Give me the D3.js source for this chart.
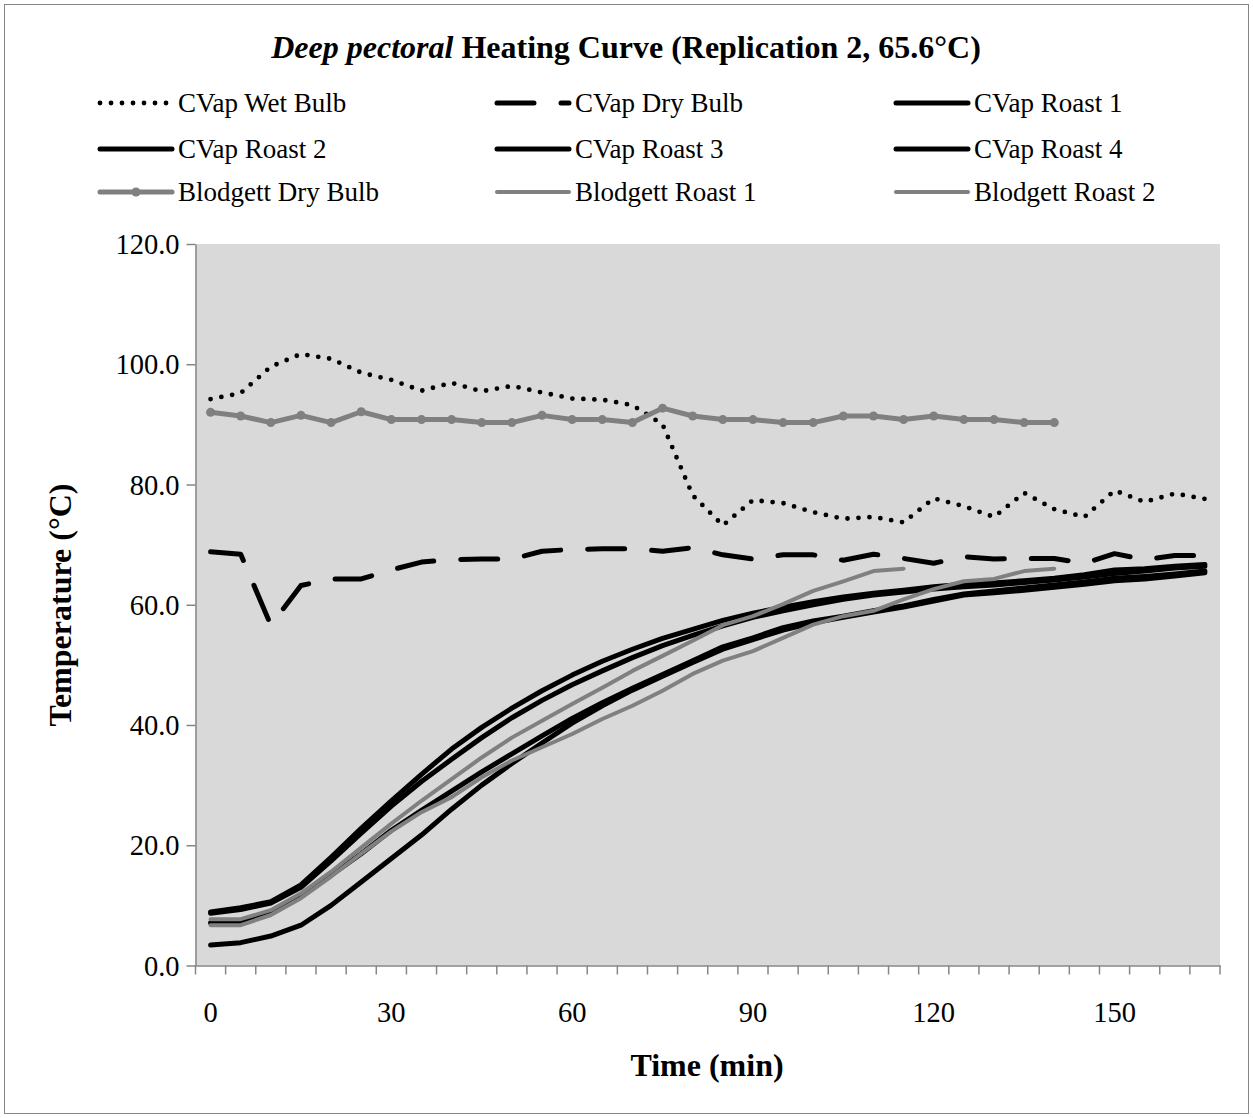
<!DOCTYPE html>
<html>
<head>
<meta charset="utf-8">
<script src="https://cdn.jsdelivr.net/npm/d3@7"></script>
<style>
  body { margin: 0; background: #fff; }
  svg { display: block; }
  text { font-family: "Liberation Serif", "Times New Roman", serif; fill: #000; }
</style>
</head>
<body>
<svg id="chart" width="1253" height="1118"></svg>
<script>
// Sampling times (min), one category every 5 minutes
const times = [0, 5, 10, 15, 20, 25, 30, 35, 40, 45, 50, 55, 60, 65, 70, 75, 80, 85,
               90, 95, 100, 105, 110, 115, 120, 125, 130, 135, 140, 145, 150, 155, 160, 165];
const xTickLabels = [0, 30, 60, 90, 120, 150];
const yTicks = [0, 20, 40, 60, 80, 100, 120];

// Temperatures (°C)
const cvapWetBulb = [94.2, 95.2, 99.6, 101.7, 100.9, 98.6, 97.4, 95.6, 96.9, 95.5,
                     96.4, 95.3, 94.3, 94.1, 93.2, 90.0, 78.2, 73.2, 77.4, 76.9,
                     75.4, 74.3, 74.6, 73.7, 77.7, 76.4, 74.6, 78.6, 75.9, 74.6,
                     79.0, 77.1, 78.5, 77.6];
const cvapDryBulb = [68.8, 68.4, 56.6, 63.2, 64.3, 64.3, 65.8, 67.1, 67.5, 67.6,
                     67.6, 68.9, 69.2, 69.3, 69.3, 68.9, 69.5, 68.3, 67.6, 68.3,
                     68.3, 67.4, 68.4, 67.7, 66.9, 68.0, 67.6, 67.7, 67.7, 66.9,
                     68.5, 67.5, 68.2, 68.2];
const cvapRoast1 = [8.9, 9.6, 10.6, 13.4, 18.0, 22.8, 27.4, 31.8, 36.0, 39.6,
                    42.8, 45.7, 48.3, 50.6, 52.6, 54.4, 55.9, 57.4, 58.6, 59.6,
                    60.5, 61.3, 61.9, 62.4, 63.0, 63.4, 63.6, 64.0, 64.4, 65.0,
                    65.8, 66.0, 66.4, 66.7];
const cvapRoast2 = [8.7, 9.3, 10.4, 13.0, 17.4, 22.0, 26.5, 30.6, 34.3, 37.9,
                    41.2, 44.1, 46.7, 49.0, 51.2, 53.2, 54.9, 56.5, 57.9, 59.0,
                    60.0, 60.9, 61.6, 62.1, 62.6, 63.0, 63.3, 63.7, 64.1, 64.6,
                    65.2, 65.6, 66.1, 66.4];
const cvapRoast3 = [7.1, 7.1, 8.9, 11.7, 15.0, 18.6, 22.5, 25.8, 29.0, 32.2,
                    35.2, 38.2, 41.1, 43.7, 46.1, 48.4, 50.7, 53.0, 54.5, 56.2,
                    57.3, 58.1, 59.0, 59.8, 60.9, 61.8, 62.3, 62.8, 63.3, 63.8,
                    64.4, 64.7, 65.1, 65.6];
const cvapRoast4 = [3.4, 3.8, 4.9, 6.7, 10.0, 13.9, 17.8, 21.7, 26.0, 30.0,
                    33.6, 37.0, 40.3, 43.2, 45.8, 48.1, 50.4, 52.6, 54.2, 55.8,
                    57.0, 57.9, 58.8, 59.6, 60.6, 61.6, 62.0, 62.4, 62.9, 63.4,
                    64.0, 64.3, 64.8, 65.3];
const blodgettDryBulb = [92.0, 91.4, 90.3, 91.5, 90.3, 92.1, 90.8, 90.8, 90.8, 90.3,
                         90.3, 91.5, 90.8, 90.8, 90.3, 92.7, 91.4, 90.8, 90.8, 90.3,
                         90.3, 91.4, 91.4, 90.8, 91.4, 90.8, 90.8, 90.3, 90.3];
const blodgettRoast1 = [7.7, 7.7, 9.2, 12.0, 15.6, 19.6, 23.6, 27.4, 31.0, 34.6,
                        37.9, 40.7, 43.5, 46.2, 49.0, 51.5, 54.0, 56.6, 58.1, 60.1,
                        62.3, 63.9, 65.6, 66.0];
const blodgettRoast2 = [6.7, 6.7, 8.4, 11.2, 14.8, 18.6, 22.3, 25.5, 28.0, 31.3,
                        34.1, 36.3, 38.5, 41.0, 43.2, 45.7, 48.5, 50.7, 52.3, 54.5,
                        56.7, 58.1, 59.0, 60.9, 62.6, 63.9, 64.3, 65.6, 66.0];

const BLACK = "#000000", GREY = "#808080", AXIS = "#868686";

// Series in drawing order, with their line styles
const series = [
  { name: "CVap Wet Bulb",      values: cvapWetBulb,     color: BLACK, width: 4.8, dash: "0 11",  cap: "round" },
  { name: "CVap Dry Bulb",      values: cvapDryBulb,     color: BLACK, width: 5,   dash: "37 27", cap: "round" },
  { name: "CVap Roast 1",       values: cvapRoast1,      color: BLACK, width: 5 },
  { name: "CVap Roast 2",       values: cvapRoast2,      color: BLACK, width: 5 },
  { name: "CVap Roast 3",       values: cvapRoast3,      color: BLACK, width: 5 },
  { name: "CVap Roast 4",       values: cvapRoast4,      color: BLACK, width: 5 },
  { name: "Blodgett Dry Bulb",  values: blodgettDryBulb, color: GREY,  width: 5, marker: true },
  { name: "Blodgett Roast 1",   values: blodgettRoast1,  color: GREY,  width: 4 },
  { name: "Blodgett Roast 2",   values: blodgettRoast2,  color: GREY,  width: 4 }
];

const svg = d3.select("#chart");

// Chart frame
svg.append("rect")
  .attr("x", 4.5).attr("y", 4.5).attr("width", 1244).attr("height", 1109)
  .attr("fill", "#fff").attr("stroke", AXIS).attr("stroke-width", 1);

const plot = { left: 195.5, right: 1220, top: 244, bottom: 965.5 };

const x = d3.scaleBand().domain(times).range([plot.left, plot.right]).paddingInner(0).paddingOuter(0);
const y = d3.scaleLinear().domain([0, 120]).range([plot.bottom, plot.top]);
const cx = t => x(t) + x.bandwidth() / 2;

// Plot area
svg.append("rect")
  .attr("x", plot.left).attr("y", plot.top)
  .attr("width", plot.right - plot.left).attr("height", plot.bottom - plot.top)
  .attr("fill", "#d9d9d9");

// Title
const title = svg.append("text")
  .attr("x", 626).attr("y", 58).attr("text-anchor", "middle")
  .style("font-size", "32px").style("font-weight", "bold");
title.append("tspan").style("font-style", "italic").text("Deep pectoral");
title.append("tspan").text(" Heating Curve (Replication 2, 65.6°C)");

// Y axis
const yAxis = svg.append("g")
  .attr("transform", `translate(${plot.left},0)`)
  .call(d3.axisLeft(y).tickValues(yTicks).tickFormat(d3.format(".1f"))
        .tickSize(9).tickSizeOuter(0).tickPadding(7));
yAxis.select(".domain").attr("stroke", AXIS).attr("stroke-width", 1.5);
yAxis.selectAll(".tick line").attr("stroke", AXIS).attr("stroke-width", 1.5);
yAxis.selectAll(".tick text")
  .attr("dy", "0.34em")
  .style("font-size", "28.5px").style("font-family", "Liberation Serif, serif").attr("fill", "#000");

// X axis: labels every 30 min at category centres, tick marks on category boundaries
const xAxis = svg.append("g")
  .attr("transform", `translate(0,${plot.bottom})`)
  .call(d3.axisBottom(d3.scaleLinear().domain([plot.left, plot.right]).range([plot.left, plot.right]))
        .tickValues([]).tickSizeOuter(0));
xAxis.select(".domain").attr("stroke", AXIS).attr("stroke-width", 1.5);
const boundaries = times.map(t => x(t)).concat([x(times[times.length - 1]) + x.bandwidth()]);
xAxis.selectAll("line.cat").data(boundaries).join("line")
  .attr("class", "cat")
  .attr("x1", d => d).attr("x2", d => d).attr("y1", 0).attr("y2", 9)
  .attr("stroke", AXIS).attr("stroke-width", 1.5);
xAxis.selectAll("text.lbl").data(xTickLabels).join("text")
  .attr("class", "lbl")
  .attr("x", d => cx(d)).attr("y", 56.5)
  .attr("text-anchor", "middle")
  .style("font-size", "28.5px")
  .text(d => d);

// Axis titles
svg.append("text")
  .attr("transform", "translate(71,605) rotate(-90)")
  .attr("text-anchor", "middle")
  .style("font-size", "32px").style("font-weight", "bold")
  .text("Temperature (°C)");
svg.append("text")
  .attr("x", 707).attr("y", 1076).attr("text-anchor", "middle")
  .style("font-size", "32px").style("font-weight", "bold")
  .text("Time (min)");

// Lines
const line = d3.line()
  .x((d, i) => cx(times[i]))
  .y(d => y(d));

const gLines = svg.append("g");
series.forEach(s => {
  gLines.append("path")
    .attr("d", line(s.values))
    .attr("fill", "none")
    .attr("stroke", s.color)
    .attr("stroke-width", s.width)
    .attr("stroke-linejoin", "round")
    .attr("stroke-linecap", s.cap || "round")
    .attr("stroke-dasharray", s.dash || null);
  if (s.marker) {
    gLines.selectAll(null).data(s.values).join("circle")
      .attr("cx", (d, i) => cx(times[i]))
      .attr("cy", d => y(d))
      .attr("r", 4.5)
      .attr("fill", s.color);
  }
});

// Legend: three columns, three rows
const legendCols = [100, 497, 896];
const legendRows = [103, 149, 192];
const sampleLen = 72;
const legend = svg.append("g");
series.forEach((s, k) => {
  const lx = legendCols[k % 3], ly = legendRows[Math.floor(k / 3)];
  legend.append("line")
    .attr("x1", lx).attr("x2", lx + sampleLen).attr("y1", ly).attr("y2", ly)
    .attr("stroke", s.color).attr("stroke-width", s.width)
    .attr("stroke-linecap", s.cap || "round")
    .attr("stroke-dasharray", s.dash || null);
  if (s.marker) {
    legend.append("circle").attr("cx", lx + sampleLen / 2).attr("cy", ly).attr("r", 4.5).attr("fill", s.color);
  }
  legend.append("text")
    .attr("x", lx + sampleLen + 6).attr("y", ly).attr("dy", "0.33em")
    .style("font-size", "27px")
    .text(s.name);
});
</script>
</body>
</html>
